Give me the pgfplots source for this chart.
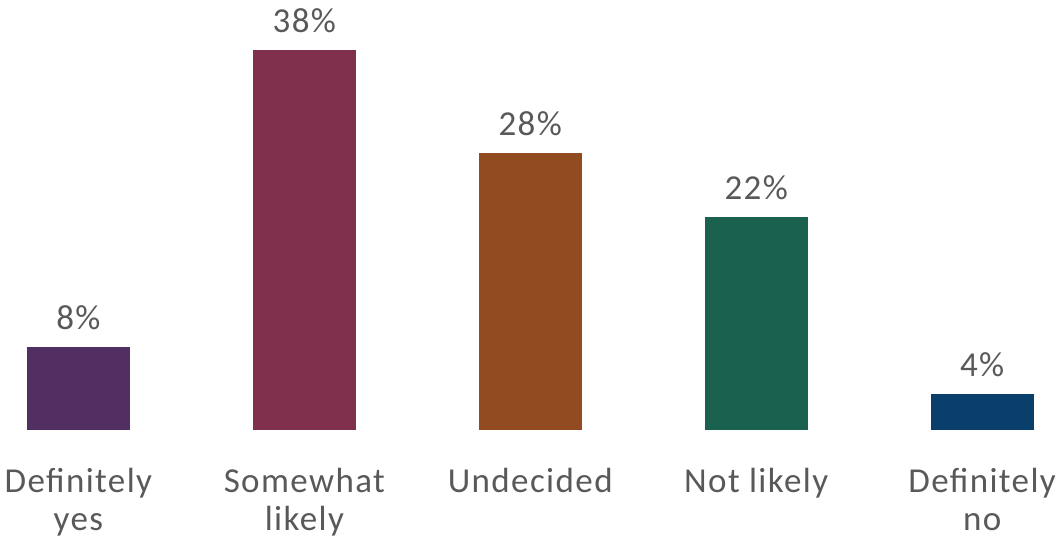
\documentclass[border=0pt]{standalone}
\usepackage{pgfplots}
\pgfplotsset{compat=1.18}
\usepackage{fontspec}
\setmainfont{Carlito}[LetterSpace=4]
\definecolor{txt}{RGB}{89,89,89}
\definecolor{c1}{RGB}{81,47,98}
\definecolor{c2}{RGB}{128,48,76}
\definecolor{c3}{RGB}{146,74,33}
\definecolor{c4}{RGB}{27,97,80}
\definecolor{c5}{RGB}{11,63,107}
\begin{document}
\begin{tikzpicture}
\begin{axis}[
  x=226pt, y=10pt,
  xmin=-0.347, xmax=4.358, ymin=-11.2, ymax=43,
  clip=false,
  axis line style={draw=none},
  tick style={draw=none},
  ytick=\empty,
  xtick={0,1,2,3,4},
  xticklabels={{Definitely\\yes},{Somewhat\\likely},{Undecided},{Not likely},{Definitely\\no}},
  xticklabel style={align=center, anchor=north, inner sep=0pt, yshift=78pt,
    font=\fontsize{35}{38}\selectfont, text=txt},
  ybar, bar width=103pt, bar shift=0pt,
  nodes near coords style={anchor=south, inner sep=0pt, yshift=17pt,
    font=\fontsize{35}{38}\selectfont, text=txt},
]
\addplot[fill=c1, draw=none, nodes near coords={8\%}] coordinates {(0,8.3)};
\addplot[fill=c2, draw=none, nodes near coords={38\%}] coordinates {(1,38)};
\addplot[fill=c3, draw=none, nodes near coords={28\%}] coordinates {(2,27.7)};
\addplot[fill=c4, draw=none, nodes near coords={22\%}] coordinates {(3,21.3)};
\addplot[fill=c5, draw=none, nodes near coords={4\%}] coordinates {(4,3.6)};
\end{axis}
\pgfresetboundingbox
\path[use as bounding box] (current axis.south west) rectangle (current axis.north east);
\end{tikzpicture}
\end{document}
